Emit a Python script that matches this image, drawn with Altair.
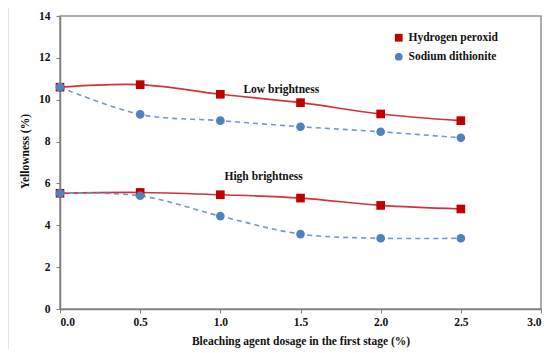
import altair as alt
import pandas as pd

doses = [0.0, 0.5, 1.0, 1.5, 2.0, 2.5]
hp_low = [10.6, 10.72, 10.26, 9.86, 9.32, 9.0]
sd_low = [10.6, 9.3, 9.0, 8.71, 8.47, 8.18]
hp_high = [5.53, 5.57, 5.46, 5.3, 4.95, 4.78]
sd_high = [5.53, 5.41, 4.44, 3.58, 3.38, 3.38]
agents = ["Hydrogen peroxid", "Sodium dithionite"]
ann_text = ["Low brightness", "High brightness"]
ann_x = [1.38, 1.27]
ann_y = [10.46, 6.3]
x_ticks = [0.0, 0.5, 1.0, 1.5, 2.0, 2.5, 3.0]
y_ticks = [0, 2, 4, 6, 8, 10, 12, 14]

rows = []
for agent, level, vals in [
    (agents[0], "Low", hp_low),
    (agents[1], "Low", sd_low),
    (agents[0], "High", hp_high),
    (agents[1], "High", sd_high),
]:
    for d, v in zip(doses, vals):
        rows.append({"dose": d, "y": v, "agent": agent, "level": level})
df = pd.DataFrame(rows)
ann = pd.DataFrame({"text": ann_text, "x": ann_x, "y": ann_y})

FONT = "Liberation Serif"

x_enc = alt.X(
    "dose:Q",
    scale=alt.Scale(domain=[0, 3], nice=False),
    axis=alt.Axis(
        values=x_ticks, format=".1f", title="Bleaching agent dosage in the first stage (%)",
        grid=False, tickSize=4, labelPadding=3, titlePadding=8,
    ),
)
y_enc = alt.Y(
    "y:Q",
    scale=alt.Scale(domain=[0, 14], nice=False),
    axis=alt.Axis(
        values=y_ticks, title="Yellowness (%)", grid=False, tickSize=4,
        labelPadding=6, titlePadding=8, titleY=135,
    ),
)

base = alt.Chart(df)

lines_hp = base.transform_filter(alt.datum.agent == agents[0]).mark_line(
    interpolate="catmull-rom", strokeWidth=1.6, color="#d0343a"
).encode(x=x_enc, y=y_enc, detail="level:N")

lines_sd = base.transform_filter(alt.datum.agent == agents[1]).mark_line(
    interpolate="catmull-rom", strokeWidth=1.6, color="#6d9ad0", strokeDash=[5, 4]
).encode(x=x_enc, y=y_enc, detail="level:N")

leg = alt.Legend(
    title=None, orient="none", legendX=333, legendY=16,
    labelFont=FONT, labelFontWeight="bold", labelFontSize=11.5, labelColor="#111",
    symbolSize=60, rowPadding=6,
)

points = base.mark_point(filled=True, opacity=1, size=75).encode(
    x=x_enc,
    y=y_enc,
    color=alt.Color("agent:N", scale=alt.Scale(domain=agents, range=["#c00000", "#4f81bd"]), legend=leg),
    shape=alt.Shape("agent:N", scale=alt.Scale(domain=agents, range=["square", "circle"]), legend=leg),
)

labels = alt.Chart(ann).mark_text(font=FONT, fontWeight="bold", fontSize=11.5, color="#111").encode(
    x="x:Q", y="y:Q", text="text:N"
)

edge = alt.Chart(ann).mark_rule(color="#dcdcdc", strokeWidth=1).encode(
    x=alt.value(-52), y=alt.value(-8), y2=alt.value(345)
)

chart = (
    alt.layer(lines_hp, lines_sd, points, labels, edge)
    .properties(
        width=481, height=293,
        autosize=alt.AutoSizeParams(type="none"),
        padding={"left": 52, "top": 8, "right": 4, "bottom": 40},
    )
    .configure_view(stroke="#909090", strokeWidth=1.5)
    .configure_axis(
        domainColor="#808080", domainWidth=1.5, tickColor="#808080",
        labelFont=FONT, labelFontWeight="bold", labelFontSize=11.5, labelColor="#111",
        titleFont=FONT, titleFontWeight="bold", titleFontSize=11.5, titleColor="#111",
    )
)

chart.save("out.html", embed_options={"renderer": "svg", "actions": False})
